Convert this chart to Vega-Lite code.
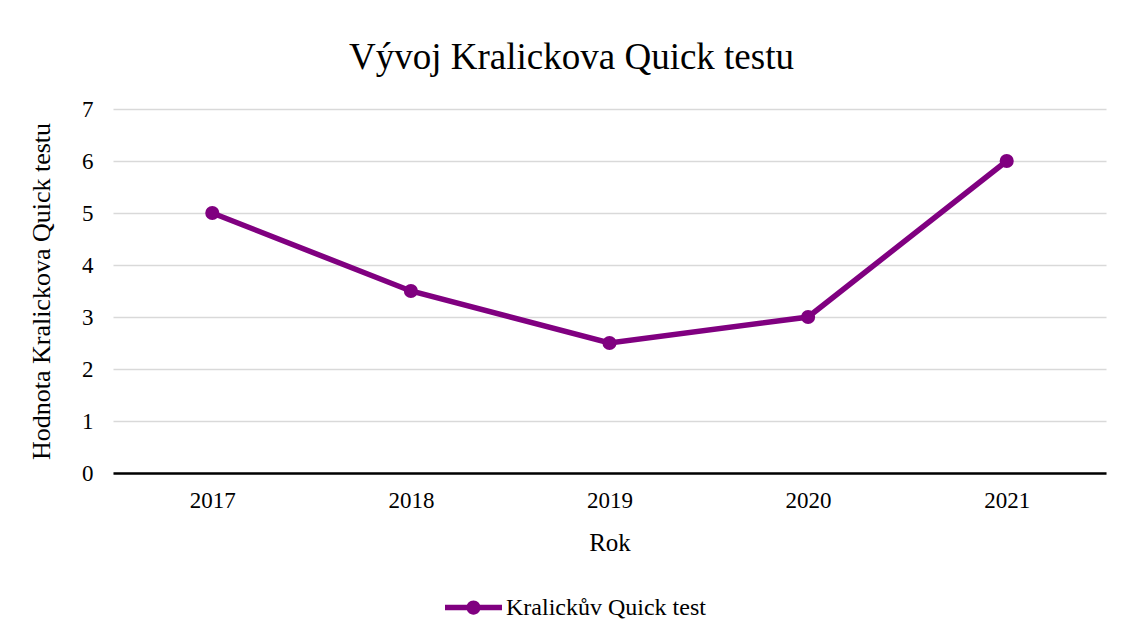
{
  "$schema": "https://vega.github.io/schema/vega-lite/v6.json",
  "autosize": "none",
  "width": 993,
  "height": 364,
  "padding": {"left": 113, "top": 109, "right": 16, "bottom": 163},
  "background": "white",
  "config": {
    "font": "Liberation Serif",
    "view": {"stroke": null},
    "axis": {"labelFont": "Liberation Serif", "titleFont": "Liberation Serif", "labelColor": "#000000", "titleColor": "#000000", "titleFontWeight": "normal"}
  },
  "title": {
    "text": "Vývoj Kralickova Quick testu",
    "font": "Liberation Serif",
    "fontSize": 37,
    "fontWeight": "normal",
    "color": "#000000",
    "offset": 21,
    "dx": -38
  },
  "data": {
    "values": [
      {"Rok": "2017", "Hodnota": 5, "Serie": "Kralickův Quick test"},
      {"Rok": "2018", "Hodnota": 3.5, "Serie": "Kralickův Quick test"},
      {"Rok": "2019", "Hodnota": 2.5, "Serie": "Kralickův Quick test"},
      {"Rok": "2020", "Hodnota": 3, "Serie": "Kralickův Quick test"},
      {"Rok": "2021", "Hodnota": 6, "Serie": "Kralickův Quick test"}
    ]
  },
  "encoding": {
    "x": {
      "field": "Rok",
      "type": "ordinal",
      "scale": {"type": "point", "padding": 0.5},
      "axis": {
        "title": "Rok",
        "labelAngle": 0,
        "labelFontSize": 23,
        "titleFontSize": 25,
        "tickSize": 0,
        "labelPadding": 16,
        "titlePadding": 18,
        "domainColor": "#000000",
        "domainWidth": 2.5,
        "grid": false
      }
    },
    "y": {
      "field": "Hodnota",
      "type": "quantitative",
      "scale": {"domain": [0, 7], "nice": false},
      "axis": {
        "title": "Hodnota Kralickova Quick testu",
        "values": [0, 1, 2, 3, 4, 5, 6, 7],
        "labelFontSize": 23,
        "titleFontSize": 26,
        "tickSize": 0,
        "labelPadding": 20,
        "titlePadding": 27,
        "domain": false,
        "grid": true,
        "gridColor": "#d9d9d9",
        "gridWidth": 1.5
      }
    },
    "color": {
      "field": "Serie",
      "type": "nominal",
      "scale": {"range": ["#800080"]},
      "legend": {
        "title": null,
        "orient": "none",
        "legendX": 332,
        "legendY": 470,
        "labelFontSize": 24,
        "labelLimit": 400,
        "labelFont": "Liberation Serif",
        "labelColor": "#000000",
        "symbolType": "M-1,-0.1 L1,-0.1 L1,0.1 L-1,0.1 Z M0.25,0 A0.25,0.25 0 1,1 -0.25,0 A0.25,0.25 0 1,1 0.25,0 Z",
        "symbolSize": 3249,
        "symbolFillColor": "#800080",
        "symbolStrokeWidth": 0,
        "labelOffset": 4
      }
    }
  },
  "layer": [
    {"mark": {"type": "line", "strokeWidth": 5.5}},
    {"mark": {"type": "point", "filled": true, "size": 200, "opacity": 1}}
  ]
}
